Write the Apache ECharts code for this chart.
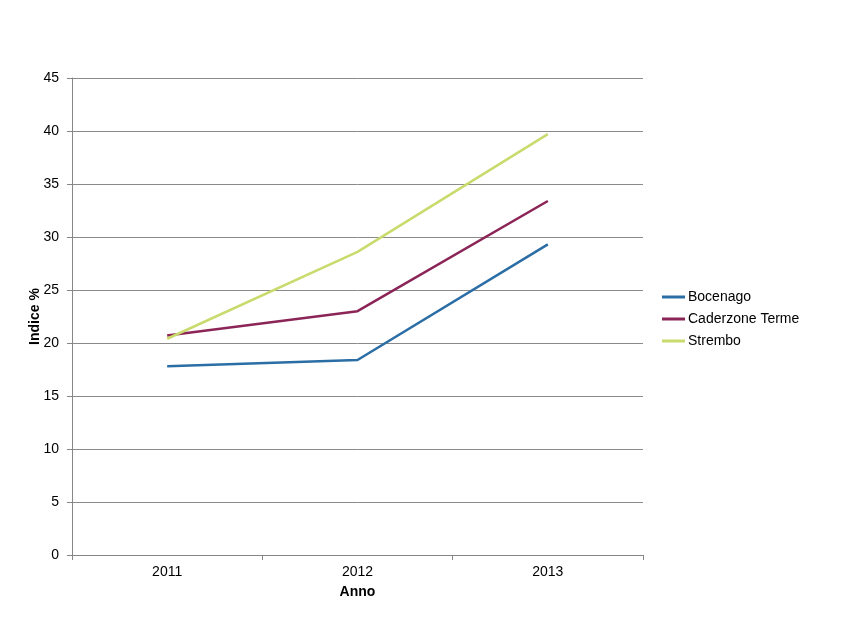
<!DOCTYPE html>
<html>
<head>
<meta charset="utf-8">
<script src="https://cdn.jsdelivr.net/npm/echarts@6/dist/echarts.min.js"></script>
<style>html,body{margin:0;padding:0;background:#fff}#c{width:850px;height:638px}</style>
</head>
<body>
<div id="c"></div>
<script>
var years = ['2011', '2012', '2013'];
var bocenago = [17.8, 18.4, 29.3];
var caderzone = [20.7, 23.0, 33.4];
var strembo = [20.4, 28.6, 39.7];
var seriesNames = ['Bocenago', 'Caderzone Terme', 'Strembo'];

var chart = echarts.init(document.getElementById('c'));
var font = 'Liberation Sans, Arial, sans-serif';
function line(name, data, color) {
  return {
    name: name, type: 'line', data: data, symbol: 'none',
    lineStyle: { color: color, width: 2.5 }, itemStyle: { color: color }
  };
}
chart.setOption({
  animation: false,
  backgroundColor: '#fff',
  textStyle: { fontFamily: font },
  grid: { left: 72, right: 207, top: 78, bottom: 83, containLabel: false },
  legend: {
    orient: 'vertical', left: 657, top: 285, itemGap: 8,
    icon: 'rect', itemWidth: 23, itemHeight: 3,
    textStyle: { color: '#000', fontSize: 14, fontFamily: font, padding: [0, 0, 0, -2] },
    data: seriesNames
  },
  xAxis: {
    type: 'category', data: years, boundaryGap: true,
    name: 'Anno', nameLocation: 'middle', nameGap: 30,
    nameTextStyle: { color: '#000', fontWeight: 'bold', fontSize: 14, fontFamily: font },
    axisLine: { lineStyle: { color: '#868686', width: 1 } },
    axisTick: { show: true, length: 5, lineStyle: { color: '#868686' } },
    axisLabel: { color: '#000', fontSize: 14, margin: 10, fontFamily: font },
    splitLine: { show: false }
  },
  yAxis: {
    type: 'value', min: 0, max: 45, interval: 5,
    name: 'Indice %', nameLocation: 'middle', nameGap: 30, nameMoveOverlap: false,
    nameTextStyle: { color: '#000', fontWeight: 'bold', fontSize: 14, fontFamily: font },
    axisLine: { show: true, lineStyle: { color: '#868686', width: 1 } },
    axisTick: { show: true, length: 5, lineStyle: { color: '#868686' } },
    axisLabel: { color: '#000', fontSize: 14, margin: 13, fontFamily: font },
    splitLine: { show: true, lineStyle: { color: '#8a8a8a', width: 1 } }
  },
  series: [
    line(seriesNames[0], bocenago, '#2b6ea6'),
    line(seriesNames[1], caderzone, '#8b2457'),
    line(seriesNames[2], strembo, '#c8db6c')
  ]
});
</script>
</body>
</html>
